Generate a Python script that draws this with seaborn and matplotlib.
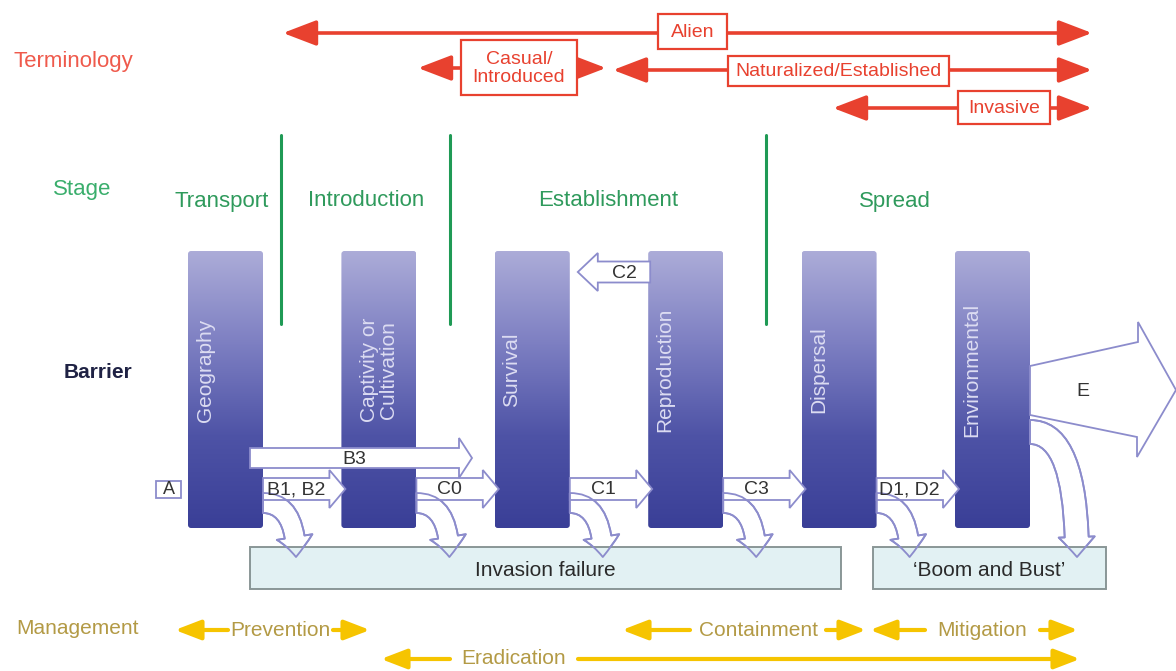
# Invasion framework diagram (barriers, stages, terminology, management)

import matplotlib
matplotlib.use("Agg")
import matplotlib.pyplot as plt
from matplotlib.patches import Polygon, FancyBboxPatch, FancyArrowPatch, Rectangle, ArrowStyle
import seaborn as sns

# diagram content
barriers = ["Geography", "Captivity or\nCultivation", "Survival", "Reproduction", "Dispersal", "Environmental"]
transitions = ["B1, B2", "C0", "C1", "C3", "D1, D2"]
stages = ["Transport", "Introduction", "Establishment", "Spread"]
terms = ["Alien", "Casual/\nIntroduced", "Naturalized/Established", "Invasive"]
outcomes = ["Invasion failure", "\u2018Boom and Bust\u2019"]
management = ["Prevention", "Containment", "Mitigation", "Eradication"]
row_labels = ["Terminology", "Stage", "Barrier", "Management"]

sns.set_theme(style="white")
plt.rcParams["font.family"] = ["Liberation Sans", "DejaVu Sans"]

RED = "#e8412f"
GREEN = "#2f9a5c"
LAV = "#8c8ccc"
YEL = "#f6c400"
KHAKI = "#b39a45"
bar_cmap = sns.blend_palette(["#acacd8", "#7d7fc2", "#4e53a6", "#3a3f97"], as_cmap=True)

fig = plt.figure(figsize=(11.76, 6.71), dpi=100)
ax = fig.add_axes([0, 0, 1, 1])
ax.set_xlim(0, 1176)
ax.set_ylim(671, 0)
ax.axis("off")


def block_arrow(x0, x1, yc, shaft, head, head_len, label=None):
    d = 1 if x1 > x0 else -1
    xb = x1 - d * head_len
    verts = [(x0, yc - shaft / 2), (xb, yc - shaft / 2), (xb, yc - head / 2), (x1, yc),
             (xb, yc + head / 2), (xb, yc + shaft / 2), (x0, yc + shaft / 2)]
    ax.add_patch(Polygon(verts, closed=True, fc="white", ec=LAV, lw=1.3, zorder=4))
    if label:
        ax.text((x0 + xb) / 2, yc + 1, label, ha="center", va="center", fontsize=14,
                color="#333333", zorder=5)


def bent_arrow(p0, p1, tail=20, zorder=3, fc="white"):
    st = ArrowStyle.Simple(head_length=20, head_width=36, tail_width=tail)
    ax.add_patch(FancyArrowPatch(p0, p1, arrowstyle=st, mutation_scale=0.72,
                                 connectionstyle="angle3,angleA=0,angleB=90",
                                 shrinkA=0, shrinkB=0, fc=fc, ec=LAV, lw=1.3, zorder=zorder))


# row labels
ax.text(73, 62, row_labels[0], ha="center", va="center", fontsize=16, color="#ef5a4c")
ax.text(82, 189, row_labels[1], ha="center", va="center", fontsize=16, color="#3aae6c")
ax.text(98, 373, row_labels[2], ha="center", va="center", fontsize=15, color="#1f2244", fontweight="bold")
ax.text(78, 628, row_labels[3], ha="center", va="center", fontsize=15, color=KHAKI)

# terminology arrows
def red_arrow(x0, x1, y):
    ax.annotate("", xy=(x1, y), xytext=(x0, y),
                arrowprops=dict(arrowstyle="<|-|>,head_length=1.7,head_width=0.65",
                                color=RED, lw=2.6, shrinkA=0, shrinkB=0), zorder=2)

red_arrow(283, 1092, 33)
red_arrow(418, 606, 68)
red_arrow(613, 1092, 70)
red_arrow(833, 1092, 108)
term_boxes = [(658, 14, 69, 35), (461, 40, 116, 55), (728, 56, 221, 30), (958, 91, 92, 33)]
for (bx, by, bw, bh), t in zip(term_boxes, terms):
    ax.add_patch(Rectangle((bx, by), bw, bh, fc="white", ec=RED, lw=1.6, zorder=3))
    ax.text(bx + bw / 2, by + bh / 2 + 1, t, ha="center", va="center", fontsize=14,
            color=RED, linespacing=1.05, zorder=4)

# stages
for x in [281, 450, 766]:
    ax.plot([x, x], [135, 324], color="#1f9a55", lw=2.2, zorder=1)
for x, s in zip([222, 366, 608, 895], stages):
    ax.text(x, 201, s, ha="center", va="center", fontsize=16, color=GREEN)

# barrier bars with gradient fill
bar_w = 75
lefts = [188 + i * 153.4 for i in range(len(barriers))]
for left, name in zip(lefts, barriers):
    patch = FancyBboxPatch((left, 251), bar_w, 277, boxstyle="round,pad=0,rounding_size=3",
                           fc="none", ec="none", zorder=2)
    ax.add_patch(patch)
    im = ax.imshow([[v / 255] for v in range(256)], cmap=bar_cmap, aspect="auto",
                   extent=(left, left + bar_w, 528, 251), origin="upper", zorder=2)
    im.set_clip_path(patch)
    tx = left + bar_w / 2 if "\n" in name else left + 17
    ax.text(tx, 370, name, rotation=90, ha="center", va="center", fontsize=15,
            color="#dcdcf2", linespacing=1.0, zorder=3)
ax.set_xlim(0, 1176)
ax.set_ylim(671, 0)

# outcome boxes
box_specs = [(250, 841), (873, 1106)]

# bent arrows down into the outcome boxes (fill first, outline after box)
bent = [((l + bar_w, 503), (l + bar_w + 33, 557)) for l in lefts[:5]]
for p0, p1 in bent:
    bent_arrow(p0, p1, zorder=3)
bent_arrow((lefts[5] + bar_w, 432), (1077, 557), tail=24, zorder=3)

for (x0, x1), t in zip(box_specs, outcomes):
    ax.add_patch(Rectangle((x0, 547), x1 - x0, 42, fc="#dff0f2", ec="#7f8c8c", lw=1.4,
                           alpha=0.9, zorder=4))
    ax.text((x0 + x1) / 2, 570, t, ha="center", va="center", fontsize=15, color="#2a2a2a", zorder=6)
for p0, p1 in bent:
    bent_arrow(p0, p1, zorder=5, fc="none")
bent_arrow((lefts[5] + bar_w, 432), (1077, 557), tail=24, zorder=5, fc="none")

# transition arrows between barriers
for i, lab in enumerate(transitions):
    block_arrow(lefts[i] + bar_w, lefts[i + 1] + 4, 489, 22, 38, 16, lab)
block_arrow(250, 472, 458, 20, 40, 13, "B3")
block_arrow(lefts[3] + 2, lefts[2] + bar_w + 8, 272, 21, 38, 20)
ax.text(624, 273, "C2", ha="center", va="center", fontsize=14, color="#333333", zorder=6)
ax.add_patch(Rectangle((156, 481), 25, 17, fc="white", ec=LAV, lw=1.3, zorder=4))
ax.text(168.5, 490, "A", ha="center", va="center", fontsize=13, color="#333333", zorder=5)

# E arrow
ax.add_patch(Polygon([(lefts[5] + bar_w, 366), (1138, 342), (1138, 322), (1176, 390),
                      (1137, 457), (1137, 437), (lefts[5] + bar_w, 415)],
                     closed=True, fc="white", ec=LAV, lw=1.3, zorder=3))
ax.text(1083, 392, "E", ha="center", va="center", fontsize=14, color="#333333", zorder=5)

# management arrows
def yel_arrow(x0, x1, y):
    ax.annotate("", xy=(x1, y), xytext=(x0, y),
                arrowprops=dict(arrowstyle="-|>,head_length=1.3,head_width=0.5",
                                color=YEL, lw=3, shrinkA=0, shrinkB=0))

mg = [(175, 228, 333, 370, 630), (622, 690, 826, 866, 630),
      (870, 925, 1040, 1078, 630), (381, 450, 578, 1080, 659)]
for (a, b, c, d, y), t in zip(mg, management):
    yel_arrow(b, a, y)
    yel_arrow(c, d, y)
    ax.text((b + c) / 2, y, t, ha="center", va="center", fontsize=15, color=KHAKI)

fig.savefig("out.png", dpi=100)
